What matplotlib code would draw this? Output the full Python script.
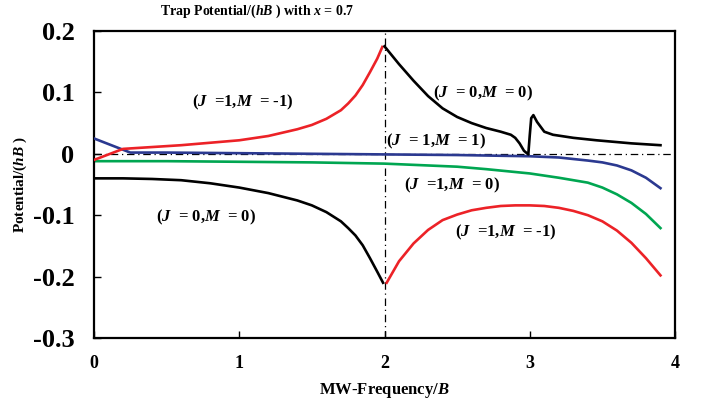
import matplotlib
matplotlib.use("Agg")
import matplotlib.pyplot as plt

plt.rcParams['font.family'] = ['Liberation Serif', 'DejaVu Serif']
plt.rcParams['font.weight'] = 'bold'
plt.rcParams['mathtext.fontset'] = 'custom'
plt.rcParams['mathtext.rm'] = 'Liberation Serif:bold'
plt.rcParams['mathtext.it'] = 'Liberation Serif:bold:italic'
plt.rcParams['mathtext.bf'] = 'Liberation Serif:bold'
plt.rcParams['axes.unicode_minus'] = False

# J=1, M=-1 branch below the resonance
red1_x = [0.0, 0.2, 0.4, 0.6, 0.8, 1.0, 1.2, 1.4, 1.5, 1.6, 1.7, 1.75, 1.8, 1.85, 1.9, 1.95, 1.985]
red1_y = [-0.010, 0.008, 0.011, 0.014, 0.018, 0.022, 0.029, 0.040, 0.047, 0.057, 0.071, 0.082,
          0.095, 0.112, 0.133, 0.155, 0.174]

# J=0, M=0 branch below the resonance
blk1_x = [0.0, 0.2, 0.4, 0.6, 0.8, 1.0, 1.2, 1.4, 1.5, 1.6, 1.7, 1.75, 1.8, 1.85, 1.9, 1.95, 1.99]
blk1_y = [-0.040, -0.040, -0.041, -0.043, -0.048, -0.055, -0.064, -0.076, -0.084, -0.095,
          -0.110, -0.121, -0.133, -0.149, -0.170, -0.192, -0.210]

# J=0, M=0 branch above the resonance
blk2_x = [2.0, 2.1, 2.2, 2.3, 2.4, 2.5, 2.6, 2.7, 2.8, 2.87, 2.9, 2.93, 2.96, 2.99, 3.0,
          3.01, 3.025, 3.05, 3.1, 3.16, 3.3, 3.46, 3.7, 3.9]
blk2_y = [0.175, 0.146, 0.119, 0.094, 0.074, 0.060, 0.050, 0.042, 0.036, 0.031, 0.026, 0.017,
          0.005, -0.001, 0.030, 0.058, 0.063, 0.052, 0.036, 0.031, 0.026, 0.022, 0.017, 0.014]

# J=1, M=-1 branch above the resonance
red2_x = [2.015, 2.1, 2.2, 2.3, 2.4, 2.5, 2.6, 2.7, 2.8, 2.9, 3.0, 3.1, 3.2, 3.3, 3.4, 3.5,
          3.6, 3.7, 3.8, 3.9]
red2_y = [-0.210, -0.175, -0.146, -0.124, -0.108, -0.099, -0.092, -0.088, -0.085, -0.084,
          -0.084, -0.085, -0.088, -0.093, -0.100, -0.110, -0.125, -0.145, -0.170, -0.198]

# J=1, M=1
blue_x = [0.0, 0.25, 0.5, 1.0, 1.5, 2.0, 2.5, 3.0, 3.2, 3.4, 3.5, 3.6, 3.7, 3.8, 3.9]
blue_y = [0.025, 0.002, 0.002, 0.001, 0.000, -0.001, -0.002, -0.004, -0.006, -0.011, -0.014,
          -0.019, -0.027, -0.039, -0.056]

# J=1, M=0
green_x = [0.0, 0.5, 1.0, 1.5, 2.0, 2.5, 2.7, 3.0, 3.2, 3.4, 3.5, 3.6, 3.7, 3.8, 3.9]
green_y = [-0.012, -0.012, -0.013, -0.014, -0.016, -0.021, -0.025, -0.032, -0.039, -0.047,
           -0.055, -0.066, -0.080, -0.098, -0.121]

xticks = [0, 1, 2, 3, 4]
yticks = [0.2, 0.1, 0, -0.1, -0.2, -0.3]
ytick_labels = ['0.2', '0.1', '0', '-0.1', '-0.2', '-0.3']

RED = '#ec2227'
BLUE = '#2b3990'
GREEN = '#00a651'

fig = plt.figure(figsize=(7.01, 4.08), dpi=100)
ax = fig.add_axes([94/701, 1 - 338/408, (675 - 94)/701, (338 - 31)/408])

ax.axhline(0, color='black', lw=0.9, ls=(0, (6, 3, 1, 3)), zorder=1)
ax.axvline(2, color='black', lw=0.9, ls=(0, (6, 3, 1, 3)), zorder=1)

lw = 1.9
ax.plot(green_x, green_y, color=GREEN, lw=lw, zorder=2)
ax.plot(blue_x, blue_y, color=BLUE, lw=lw, zorder=3)
ax.plot(red1_x, red1_y, color=RED, lw=lw, zorder=4)
ax.plot(red2_x, red2_y, color=RED, lw=lw, zorder=4)
ax.plot(blk1_x, blk1_y, color='black', lw=lw, zorder=4)
ax.plot(blk2_x, blk2_y, color='black', lw=lw, zorder=4)

ax.set_xlim(0, 4)
ax.set_ylim(-0.3, 0.2)
ax.set_xticks(xticks)
ax.set_xticklabels([str(v) for v in xticks], fontsize=13, fontweight='bold')
ax.set_yticks(yticks)
ax.set_yticklabels(ytick_labels, fontsize=19, fontweight='bold')
ax.tick_params(axis='both', direction='in', length=5, width=1.0)
ax.tick_params(axis='x', pad=12)
ax.tick_params(axis='y', pad=14)
for s in ax.spines.values():
    s.set_linewidth(1.6)

ax.set_xlabel('MW-Frequency/$B$', fontsize=12, fontweight='bold', labelpad=7)
ax.set_ylabel('Potential/($hB$ )', fontsize=11, fontweight='bold')
ax.yaxis.set_label_coords(-0.112, 0.5)

fig.text(257/701, 1 - 11/408, 'Trap Potential/($hB$ ) with $x$ = 0.7', ha='center', va='center',
         fontsize=10, fontweight='bold')

labels = [
    ((243, 102), '($J$  =1,$M$  = -1)'),
    ((483, 93), '($J$  = 0,$M$  = 0)'),
    ((436, 141), '($J$  = 1,$M$  = 1)'),
    ((452, 185), '($J$  =1,$M$  = 0)'),
    ((206, 217), '($J$  = 0,$M$  = 0)'),
    ((506, 232), '($J$  =1,$M$  = -1)'),
]
for (px, py), txt in labels:
    fig.text(px/701, 1 - py/408, txt, ha='center', va='center', fontsize=12, fontweight='bold')

fig.savefig('out.png', dpi=100)
